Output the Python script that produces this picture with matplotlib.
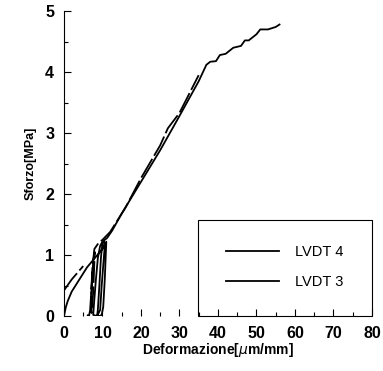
import matplotlib.pyplot as plt
from matplotlib.patches import Rectangle
from matplotlib.lines import Line2D
from matplotlib.ticker import MultipleLocator

plt.rcParams['font.family'] = ['Liberation Sans', 'DejaVu Sans']

# LVDT 4 (solid): loading, unloading/reloading loops, then main branch
lvdt4_x = [0, 0.5, 1, 2, 4, 6, 8, 10, 11.0, 10.6, 10.2, 9.8, 9.2, 8.6, 8.8, 9.2,
           9.6, 10.0, 10.4, 10.6, 9.8, 9.4, 8.6, 7.6, 7.8, 8.3, 8.8, 9.4, 10.0,
           11.2, 12.5, 15, 20, 25, 30, 35, 37, 38, 39.5, 40.5, 42, 44, 46, 47,
           48, 50, 51, 53, 55, 56]
lvdt4_y = [0, 0.15, 0.25, 0.4, 0.6, 0.8, 0.95, 1.1, 1.22, 0.6, 0.15, 0.02, 0,
           0, 0.1, 0.5, 0.95, 1.2, 1.22, 1.15, 0.5, 0.1, 0, 0.02, 0.2, 0.6,
           0.95, 1.15, 1.22, 1.28, 1.4, 1.68, 2.2, 2.72, 3.28, 3.85, 4.12,
           4.17, 4.18, 4.28, 4.3, 4.4, 4.43, 4.52, 4.52, 4.62, 4.7, 4.7, 4.74,
           4.78]

# LVDT 3 (dashed); nan marks the gap in the recorded trace
nan = float('nan')
lvdt3_x = [0, 2, 5, nan, 6, 6.5, 6.8, 7.2, 7.6, 8.0, 7.6, 7.2, 7.0, 7.4, 7.9,
           9.0, 10.0, 12, 16, 20, 25, 27, 30, 35]
lvdt3_y = [0.42, 0.6, 0.82, nan, 0.02, 0.0, 0.1, 0.5, 0.9, 1.05, 0.4, 0.05, 0.3,
           0.8, 1.1, 1.2, 1.25, 1.38, 1.78, 2.26, 2.8, 3.08, 3.33, 3.95]

fig = plt.figure(figsize=(3.83, 3.71), dpi=100)
ax = fig.add_axes([0.167, 0.148, 0.804, 0.822])

ax.plot(lvdt4_x, lvdt4_y, color='black', lw=1.3)
ax.plot(lvdt3_x, lvdt3_y, color='black', lw=1.3, dashes=(12, 2))

ax.set_xlim(0, 80)
ax.set_ylim(0, 5)
ax.xaxis.set_major_locator(MultipleLocator(10))
ax.xaxis.set_minor_locator(MultipleLocator(5))
ax.yaxis.set_major_locator(MultipleLocator(1))
ax.yaxis.set_minor_locator(MultipleLocator(0.5))
ax.tick_params(which='both', direction='in', width=0.8)
ax.tick_params(which='major', length=5, labelsize=11.5, pad=7)
ax.tick_params(which='minor', length=3)
for lab in ax.get_xticklabels() + ax.get_yticklabels():
    lab.set_fontweight('bold')

for s in ['top', 'right', 'bottom']:
    ax.spines[s].set_visible(False)
ax.spines['left'].set_linewidth(0.8)

ax.set_xlabel(r'Deformazione[$\mu$m/mm]', fontsize=10, fontweight='bold',
              labelpad=0)
ax.set_ylabel('Sforzo[MPa]', fontsize=9, fontweight='bold', labelpad=6)

ax.add_patch(Rectangle((0.435, 0), 0.565, 0.315, transform=ax.transAxes,
                       fill=False, edgecolor='black', lw=0.8, clip_on=False))
handles = [Line2D([], [], color='black', lw=1.3),
           Line2D([], [], color='black', lw=1.3)]
ax.legend(handles, ['LVDT 4', 'LVDT 3'], frameon=False, loc='center',
          bbox_to_anchor=(0.435 + 0.565 / 2, 0.16), handlelength=3.6,
          handletextpad=1.1, labelspacing=1.1, fontsize=10.5)

fig.savefig('out.png', dpi=100)
